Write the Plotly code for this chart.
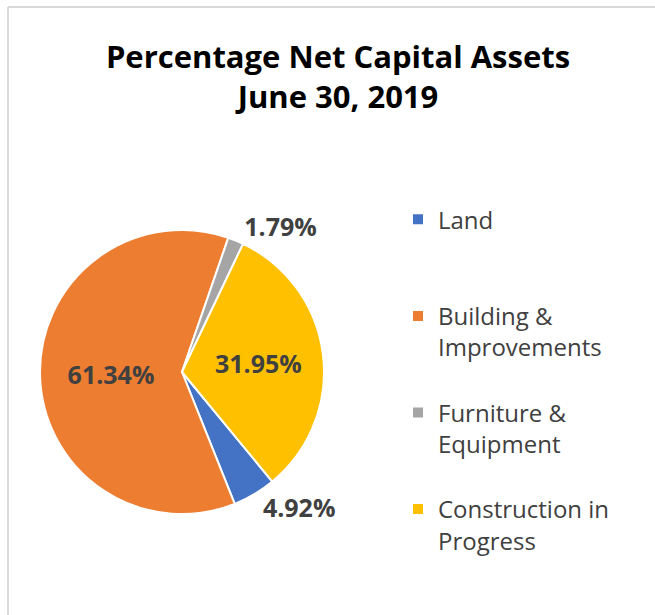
import plotly.graph_objects as go

# Net capital assets as of June 30, 2019 (percent of total)
categories = ["Land", "Building &\nImprovements", "Furniture &\nEquipment", "Construction in\nProgress"]
shares = [4.92, 61.34, 1.79, 31.95]
colors = ["#4472C4", "#ED7D31", "#A5A5A5", "#FFC000"]
label_positions = ["outside", "inside", "outside", "inside"]

FONT = "Open Sans"
W, H = 655, 615


def legend_name(name):
    # pad with blank lines so the swatch sits beside the first text line
    lines = name.split("\n")
    if len(lines) == 1:
        lines = ["\u00a0"] + lines + ["\u00a0"]
    else:
        lines = ["\u00a0"] + lines
    return "<br>".join(lines)


fig = go.Figure(
    go.Pie(
        labels=[legend_name(c) for c in categories],
        values=shares,
        sort=False,
        direction="clockwise",
        rotation=140.5,
        marker=dict(colors=colors, line=dict(color="white", width=2)),
        texttemplate="%{value:.2f}%",
        textposition=label_positions,
        insidetextorientation="horizontal",
        textfont=dict(family=FONT, size=25, color="#404040", weight="bold"),
        hoverinfo="label+percent",
        domain=dict(x=[(182 - 142) / W, (182 + 142) / W],
                    y=[(H - 372 - 142) / H, (H - 372 + 142) / H]),
    )
)

fig.update_layout(
    width=W,
    height=H,
    margin=dict(l=0, r=0, t=0, b=0),
    paper_bgcolor="white",
    plot_bgcolor="white",
    title=dict(
        text="Percentage Net Capital Assets<br>June 30, 2019",
        x=338 / W,
        xanchor="center",
        y=1 - 68 / H,
        yanchor="top",
        font=dict(family=FONT, size=31, color="black", weight="bold"),
    ),
    legend=dict(
        x=398 / W,
        xanchor="left",
        y=1 - 166 / H,
        yanchor="top",
        font=dict(family=FONT, size=24, color="#404040"),
        bgcolor="rgba(0,0,0,0)",
    ),
    showlegend=True,
    shapes=[
        dict(type="line", xref="paper", yref="paper",
             x0=8 / W, x1=1, y0=1 - 7 / H, y1=1 - 7 / H,
             line=dict(color="#D9D9D9", width=2)),
        dict(type="line", xref="paper", yref="paper",
             x0=8 / W, x1=8 / W, y0=0, y1=1 - 7 / H,
             line=dict(color="#D9D9D9", width=2)),
    ],
)

fig.write_html("out.html")
